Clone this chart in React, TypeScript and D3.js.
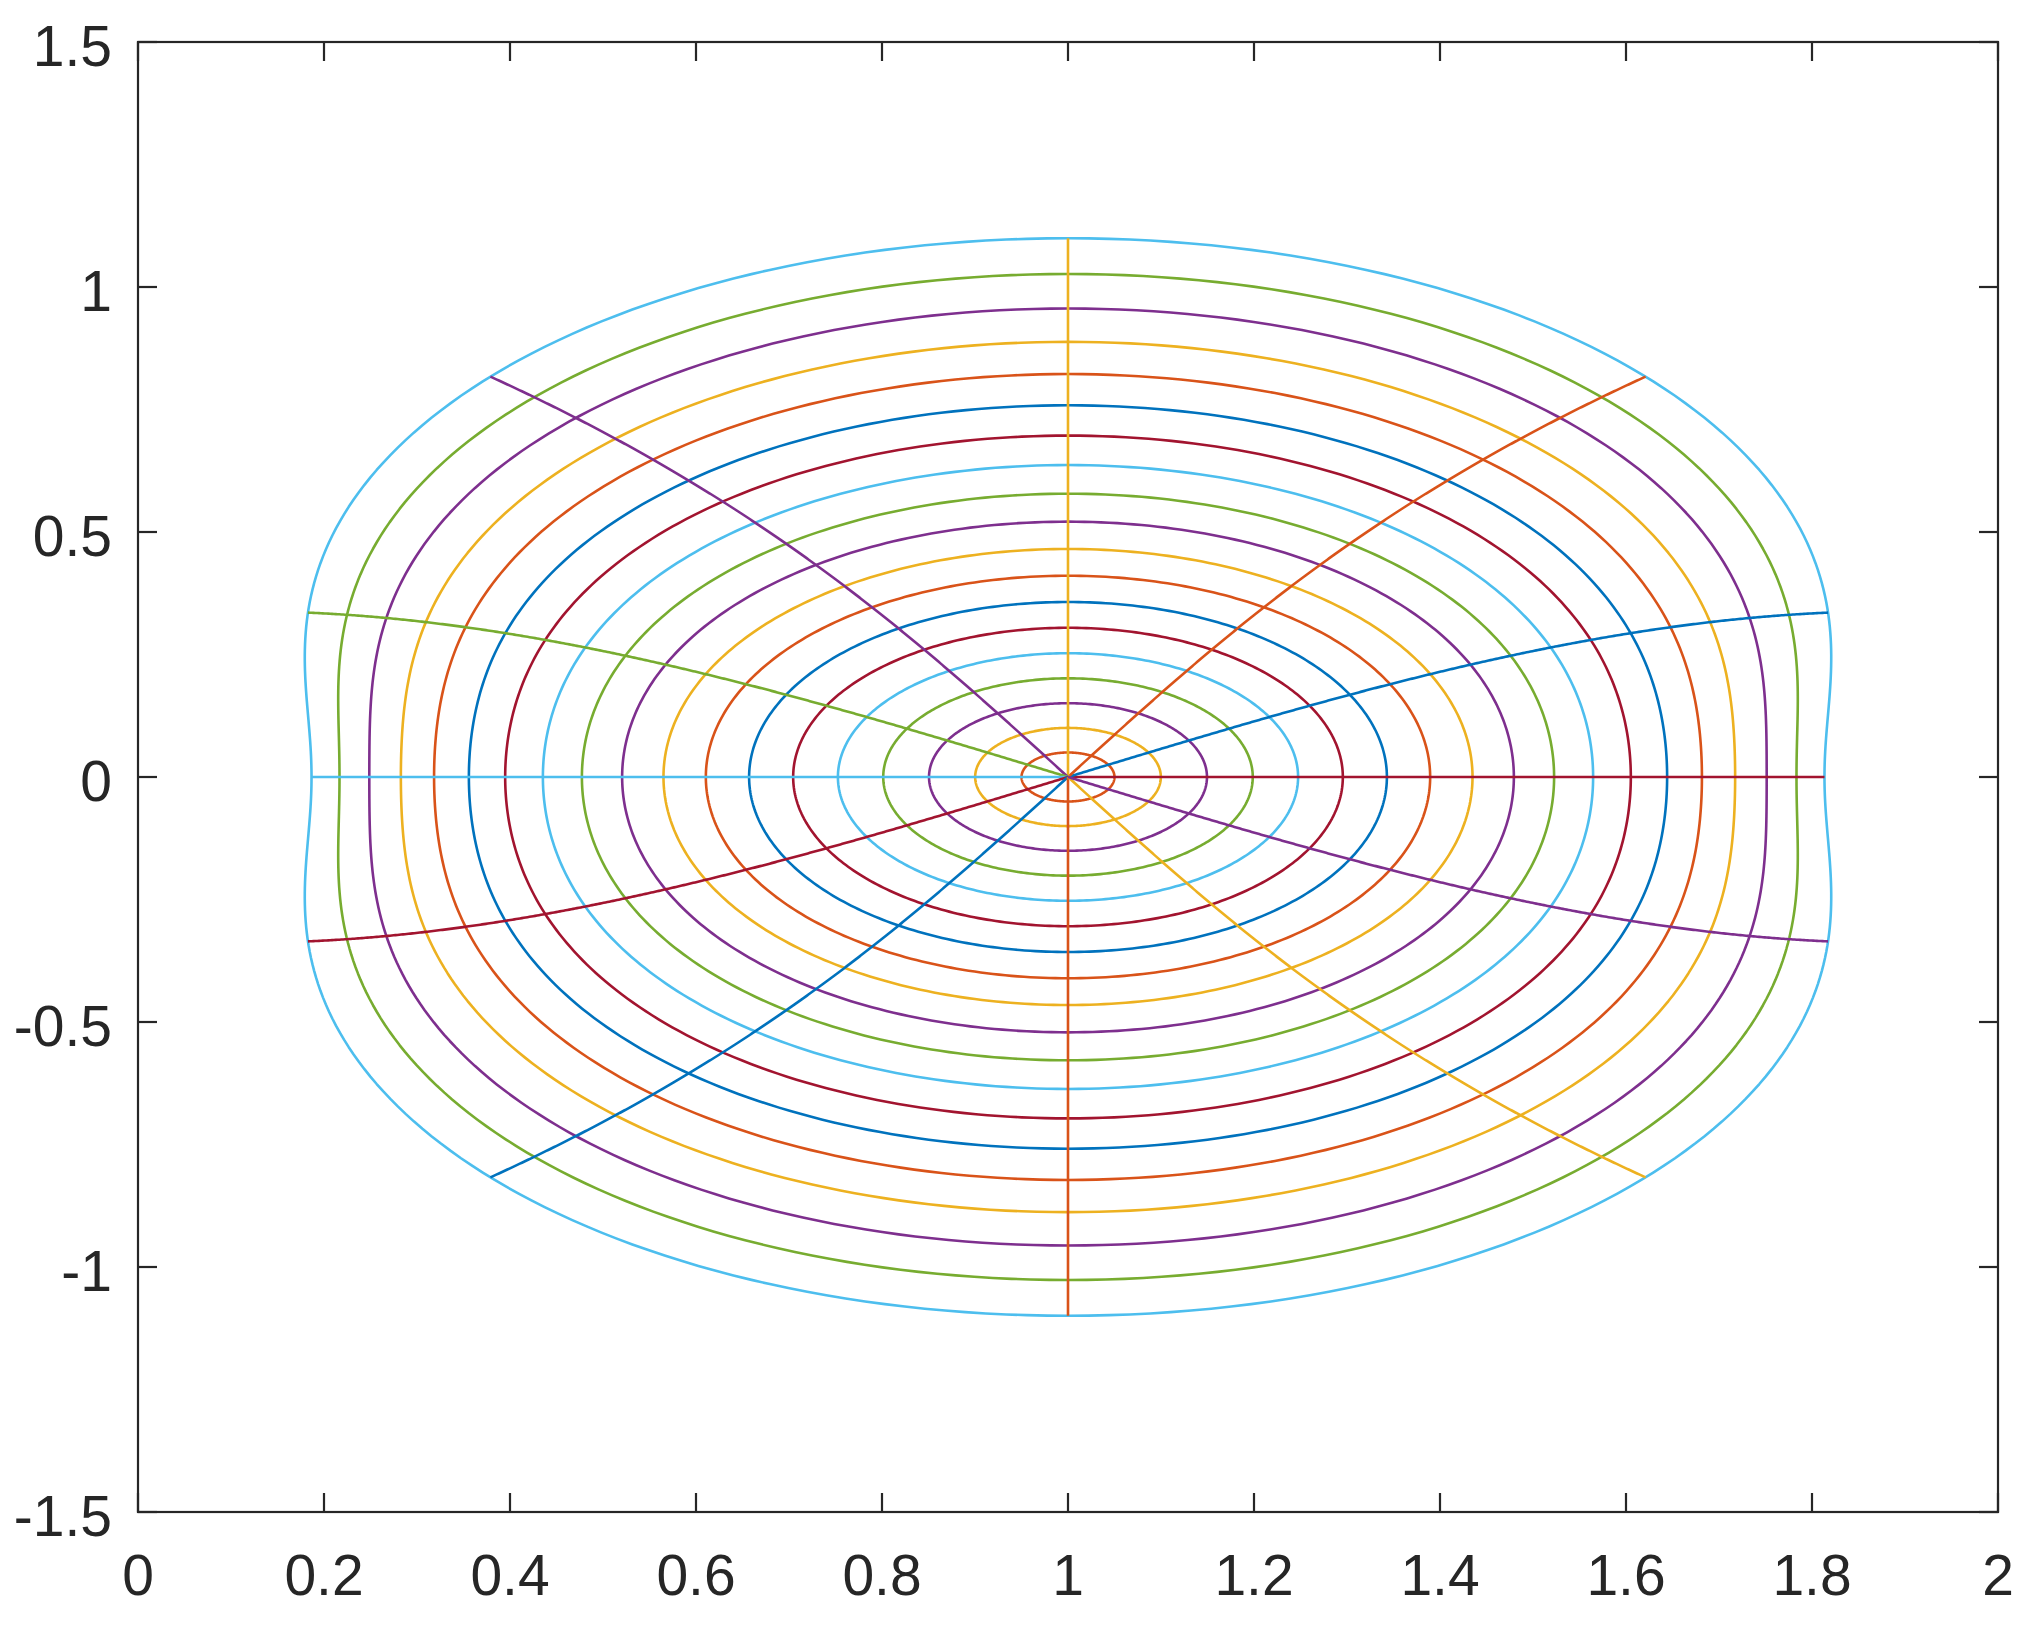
import React, { useEffect, useRef } from "react";
import * as d3 from "d3";

// radii of the level curves (|z|), and angles (degrees) of the rays
const radii = [0, 0.05, 0.1, 0.15, 0.2, 0.25, 0.3, 0.35, 0.4, 0.45, 0.5, 0.55, 0.6, 0.65, 0.7, 0.75, 0.8, 0.85, 0.9, 0.95];
const angles = [0, 30, 60, 90, 120, 150, 180, 210, 240, 270, 300, 330];
const center = 1;

const xTicks = [0, 0.2, 0.4, 0.6, 0.8, 1, 1.2, 1.4, 1.6, 1.8, 2];
const xTickLabels = ["0", "0.2", "0.4", "0.6", "0.8", "1", "1.2", "1.4", "1.6", "1.8", "2"];
const yTicks = [-1.5, -1, -0.5, 0, 0.5, 1, 1.5];
const yTickLabels = ["-1.5", "-1", "-0.5", "0", "0.5", "1", "1.5"];

const colors = ["#0072BD", "#D95319", "#EDB120", "#7E2F8E", "#77AC30", "#4DBEEE", "#A2142F"];

// w = center + sin(z)
function mapPoint(r: number, t: number): [number, number] {
  const a = r * Math.cos(t);
  const b = r * Math.sin(t);
  return [center + Math.sin(a) * Math.cosh(b), Math.cos(a) * Math.sinh(b)];
}

export default function App() {
  const svgRef = useRef<SVGSVGElement>(null);

  useEffect(() => {
    const width = 2044;
    const height = 1632;
    const margin = { top: 42, right: 46, bottom: 120, left: 138 };

    const svg = d3.select(svgRef.current);
    svg.selectAll("*").remove();
    svg.attr("width", width).attr("height", height);

    const x = d3.scaleLinear().domain([0, 2]).range([margin.left, width - margin.right]);
    const y = d3.scaleLinear().domain([-1.5, 1.5]).range([height - margin.bottom, margin.top]);

    const line = d3
      .line<[number, number]>()
      .x((d) => x(d[0]))
      .y((d) => y(d[1]));

    const nSeg = 400;
    let k = 0;

    // level curves
    radii.forEach((r) => {
      const pts: [number, number][] = d3.range(nSeg + 1).map((i) => mapPoint(r, (2 * Math.PI * i) / nSeg));
      svg
        .append("path")
        .datum(pts)
        .attr("fill", "none")
        .attr("stroke", colors[k % 7])
        .attr("stroke-width", 2.6)
        .attr("stroke-linejoin", "round")
        .attr("d", r === 0 ? null : line);
      k++;
    });

    // rays
    const rMax = radii[radii.length - 1];
    angles.forEach((deg) => {
      const t = (deg * Math.PI) / 180;
      const pts: [number, number][] = d3.range(nSeg + 1).map((i) => mapPoint((rMax * i) / nSeg, t));
      svg
        .append("path")
        .datum(pts)
        .attr("fill", "none")
        .attr("stroke", colors[k % 7])
        .attr("stroke-width", 2.6)
        .attr("d", line);
      k++;
    });

    const axisColor = "#262626";
    const tickLen = 19;
    const x0 = x(0), x1 = x(2), y0 = y(-1.5), y1 = y(1.5);

    // box
    svg
      .append("rect")
      .attr("x", x0)
      .attr("y", y1)
      .attr("width", x1 - x0)
      .attr("height", y0 - y1)
      .attr("fill", "none")
      .attr("stroke", axisColor)
      .attr("stroke-width", 2.2);

    const font = "'Liberation Sans', Arial, Helvetica, sans-serif";

    // x ticks
    xTicks.forEach((v, i) => {
      svg.append("line").attr("x1", x(v)).attr("x2", x(v)).attr("y1", y0).attr("y2", y0 - tickLen)
        .attr("stroke", axisColor).attr("stroke-width", 2.2);
      svg.append("line").attr("x1", x(v)).attr("x2", x(v)).attr("y1", y1).attr("y2", y1 + tickLen)
        .attr("stroke", axisColor).attr("stroke-width", 2.2);
      svg.append("text")
        .attr("x", x(v))
        .attr("y", y0 + 83)
        .attr("text-anchor", "middle")
        .attr("fill", axisColor)
        .style("font-family", font)
        .style("font-size", "57px")
        .text(xTickLabels[i]);
    });

    // y ticks
    yTicks.forEach((v, i) => {
      svg.append("line").attr("x1", x0).attr("x2", x0 + tickLen).attr("y1", y(v)).attr("y2", y(v))
        .attr("stroke", axisColor).attr("stroke-width", 2.2);
      svg.append("line").attr("x1", x1).attr("x2", x1 - tickLen).attr("y1", y(v)).attr("y2", y(v))
        .attr("stroke", axisColor).attr("stroke-width", 2.2);
      svg.append("text")
        .attr("x", x0 - 26)
        .attr("y", y(v) + 24)
        .attr("text-anchor", "end")
        .attr("fill", axisColor)
        .style("font-family", font)
        .style("font-size", "57px")
        .text(yTickLabels[i]);
    });
  }, []);

  return (
    <svg
      ref={svgRef}
      style={{ position: "absolute", left: 0, top: 0, background: "#ffffff" }}
    ></svg>
  );
}
